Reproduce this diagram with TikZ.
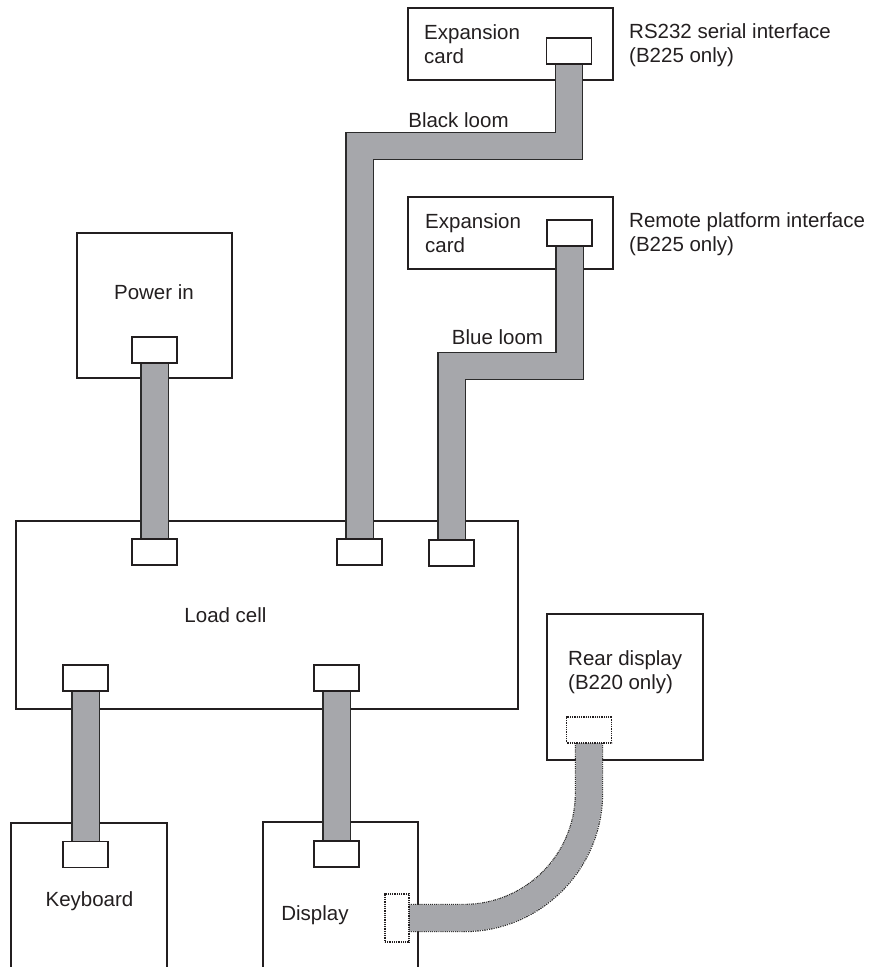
\documentclass[tikz,border=0pt]{standalone}
\usepackage{fontspec}
\setmainfont{Liberation Sans}
\definecolor{boxline}{HTML}{231F20}
\definecolor{plugline}{HTML}{231F20}
\definecolor{cableline}{HTML}{2B2B2B}
\definecolor{cablegray}{HTML}{A6A7AB}
\definecolor{textcol}{HTML}{231F20}
\pgfdeclarelayer{boxes}
\pgfdeclarelayer{plugs}
\pgfsetlayers{boxes,main,plugs}
\begin{document}
\begin{tikzpicture}[x=1pt,y=-1pt,
  box/.style={draw=boxline, line width=1.2pt, fill=white, inner sep=0pt, outer sep=0pt},
  plug/.style={draw=plugline, line width=1.4pt, fill=white, minimum width=45pt,
    minimum height=26pt, inner sep=0pt, outer sep=0pt},
  dotplug/.style={plug, dash pattern=on 1pt off 0.8pt},
  lbl/.style={inner sep=0pt, font=\fontsize{20.5}{24.5}\selectfont, text=textcol},
  cable/.style={draw=cableline, line width=1.2pt, double=cablegray, double distance=26pt},
  softcable/.style={draw=cablegray, line width=26pt,
    preaction={draw=cableline, line width=28.4pt, dash pattern=on 1.2pt off 0.9pt}},
]
\useasboundingbox (0,0) rectangle (879,967);
\clip (0,0) rectangle (879,967);

% units and modules
\begin{pgfonlayer}{boxes}
  \node[box, minimum width=155pt, minimum height=145pt] (power) at (154.5,305.5) {};
  \node[box, minimum width=502pt, minimum height=188pt] (loadcell) at (267,615) {};
  \node[box, minimum width=156pt, minimum height=177pt] (keyboard) at (89,911.5) {};
  \node[box, minimum width=155pt, minimum height=178pt] (display) at (340.5,911) {};
  \node[box, minimum width=205pt, minimum height=72pt] (card1) at (510.5,44) {};
  \node[box, minimum width=205pt, minimum height=72pt] (card2) at (510.5,233) {};
  \node[box, minimum width=156pt, minimum height=146pt] (reardisp) at (625,687) {};
\end{pgfonlayer}

% connectors
\begin{pgfonlayer}{plugs}
  \node[plug] (pc_top) at (154.5,350) {};
  \node[plug] (pc_lc) at (154.5,552) {};
  \node[plug] (black_lc) at (359.5,552) {};
  \node[plug] (blue_lc) at (451.5,553) {};
  \node[plug] (kb_lc) at (85.5,678) {};
  \node[plug] (disp_lc) at (336.5,678) {};
  \node[plug] (kb) at (85.5,854.5) {};
  \node[plug] (disp_top) at (336.5,854) {};
  \node[plug] (exp1) at (569,51) {};
  \node[plug] (exp2) at (569.5,233) {};
  \node[dotplug] (rear) at (589,730) {};
  \node[dotplug, minimum width=24pt, minimum height=48pt] (disp_side) at (397,918) {};
\end{pgfonlayer}

% looms
\coordinate (bk) at (359.5,146);
\coordinate (bl) at (451.5,366);
\coordinate (rc1) at (589,793);
\coordinate (rc2) at (464,918);
\draw[cable] (pc_top.south) -- (pc_lc.north);
\draw[cable] (exp1.south) |- (bk) -- (black_lc.north);
\draw[cable] (exp2.south) |- (bl) -- (blue_lc.north);
\draw[cable] (kb_lc.south) -- (kb.north);
\draw[cable] (disp_lc.south) -- (disp_top.north);
\draw[softcable] (rear.south) -- (rc1) .. controls +(0,69) and +(69,0) .. (rc2) -- (disp_side.east);

% labels
\node[lbl] (powertxt) at (154,292) {Power in};
\node[lbl] (loadtxt) at (225.5,615) {Load cell};
\node[lbl] (kbtxt) at (89.5,901) {Keyboard};
\node[lbl] (disptxt) at (315,915) {Display};
\node[lbl, align=left, anchor=west] (card1txt) at (424,44) {Expansion\\card};
\node[lbl, align=left, anchor=west] (card2txt) at (425,233) {Expansion\\card};
\node[lbl, align=left, anchor=west] (rs232txt) at (629,45) {RS232 serial interface\\(B225 only)};
\node[lbl, align=left, anchor=west] (remotetxt) at (629,234) {Remote platform interface\\(B225 only)};
\node[lbl, align=left, anchor=west] (reartxt) at (568,672) {Rear display\\(B220 only)};
\node[lbl] (blacktxt) at (458.5,120) {Black loom};
\node[lbl] (bluetxt) at (497.5,337) {Blue loom};
\end{tikzpicture}
\end{document}
